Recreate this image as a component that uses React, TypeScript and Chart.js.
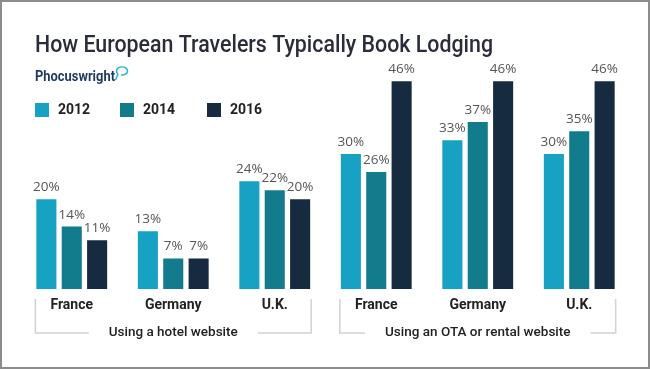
import React, { useEffect, useRef } from "react";
import { Chart, registerables } from "chart.js";

Chart.register(...registerables);

const TITLE = "How European Travelers Typically Book Lodging";
const BRAND = "Phocuswright";
const categories = ["France", "Germany", "U.K.", "France", "Germany", "U.K."];
const groupLabels = ["Using a hotel website", "Using an OTA or rental website"];
const years = ["2012", "2014", "2016"];
const values2012 = [20, 13, 24, 30, 33, 30];
const values2014 = [14, 7, 22, 26, 37, 35];
const values2016 = [11, 7, 20, 46, 46, 46];
const colors = ["#17a1c3", "#127b8c", "#162b3f"];

const decorPlugin = {
  id: "decor",
  beforeDraw(chart: any) {
    const ctx = chart.ctx;
    ctx.save();
    ctx.fillStyle = "#ffffff";
    ctx.fillRect(0, 0, chart.width, chart.height);
    ctx.restore();
  },
  afterDraw(chart: any) {
    const ctx = chart.ctx;
    ctx.save();
    // outer border
    ctx.strokeStyle = "#8c8c8c";
    ctx.lineWidth = 2;
    ctx.strokeRect(1, 1, chart.width - 2, chart.height - 2);

    // title
    ctx.fillStyle = "#2a2c3a";
    ctx.font = "500 24px Roboto";
    ctx.textBaseline = "alphabetic";
    const tw = ctx.measureText(TITLE).width;
    const target = 458;
    ctx.save();
    ctx.translate(35, 52);
    ctx.scale(target / tw, 1);
    ctx.fillText(TITLE, 0, 0);
    ctx.restore();

    // brand
    ctx.fillStyle = "#1d3a5c";
    ctx.font = "bold 15px Roboto";
    const bw = ctx.measureText(BRAND).width;
    ctx.save();
    ctx.translate(35, 81);
    ctx.scale(80 / bw, 1);
    ctx.fillText(BRAND, 0, 0);
    ctx.restore();
    // bubble
    ctx.strokeStyle = "#2fb3d6";
    ctx.lineWidth = 1.6;
    ctx.beginPath();
    ctx.ellipse(122, 71, 5.5, 4, 0, Math.PI * 0.75, Math.PI * 2.55);
    ctx.stroke();
    ctx.beginPath();
    ctx.moveTo(118, 74);
    ctx.lineTo(115.5, 80);
    ctx.stroke();

    // legend
    const legendX = [35, 120, 207];
    ctx.font = "bold 14px Roboto";
    ctx.textBaseline = "middle";
    years.forEach((y, i) => {
      ctx.fillStyle = colors[i];
      ctx.fillRect(legendX[i], 103, 14, 14);
      ctx.fillStyle = "#222";
      ctx.fillText(y, legendX[i] + 23, 110.5);
    });

    // value labels
    ctx.font = "13.5px 'Open Sans'";
    ctx.fillStyle = "#555";
    ctx.textAlign = "center";
    ctx.textBaseline = "alphabetic";
    chart.data.datasets.forEach((ds: any, di: number) => {
      const meta = chart.getDatasetMeta(di);
      meta.data.forEach((bar: any, i: number) => {
        ctx.fillText(ds.data[i] + "%", bar.x, bar.y - 7);
      });
    });

    // group brackets
    const m0 = chart.getDatasetMeta(0);
    const m2 = chart.getDatasetMeta(2);
    ctx.strokeStyle = "#d2d2d2";
    ctx.lineWidth = 1.5;
    ctx.font = "500 13.5px Roboto";
    ctx.fillStyle = "#222";
    ctx.textBaseline = "middle";
    groupLabels.forEach((g, gi) => {
      const first = m0.data[gi * 3];
      const last = m2.data[gi * 3 + 2];
      const left = first.x - first.width / 2;
      const right = last.x + last.width / 2;
      const cx = (left + right) / 2;
      const yTop = 299;
      const yBot = 333;
      const w = ctx.measureText(g).width;
      const gap = 20;
      ctx.beginPath();
      ctx.moveTo(left, yTop);
      ctx.lineTo(left, yBot);
      ctx.lineTo(cx - w / 2 - gap, yBot);
      ctx.moveTo(cx + w / 2 + gap, yBot);
      ctx.lineTo(right, yBot);
      ctx.lineTo(right, yTop);
      ctx.stroke();
      ctx.fillText(g, cx, yBot);
    });
    ctx.restore();
  },
};

export default function App() {
  const ref = useRef<HTMLCanvasElement>(null);
  useEffect(() => {
    document.body.style.margin = "0";
    const chart = new Chart(ref.current as HTMLCanvasElement, {
      type: "bar",
      data: {
        labels: categories,
        datasets: [values2012, values2014, values2016].map((d, i) => ({
          label: years[i],
          data: d,
          backgroundColor: colors[i],
          borderColor: "rgba(255,255,255,0.35)",
          borderWidth: 1,
          barPercentage: 0.87,
          categoryPercentage: 0.75,
        })),
      },
      options: {
        animation: false,
        responsive: false,
        layout: { padding: { left: 21, right: 20, top: 62, bottom: 55 } },
        plugins: {
          legend: { display: false },
          tooltip: { enabled: false },
          title: { display: false },
        },
        scales: {
          x: {
            grid: { display: false },
            border: { display: false },
            ticks: {
              color: "#222",
              font: { family: "Roboto", size: 14, weight: "bold" },
              padding: 0,
            },
          },
          y: {
            display: false,
            min: 0,
            max: 50,
          },
        },
      },
      plugins: [decorPlugin],
    });
    return () => chart.destroy();
  }, []);
  return (
    <div style={{ width: 650, height: 369 }}>
      <canvas ref={ref} width={650} height={369} />
    </div>
  );
}
